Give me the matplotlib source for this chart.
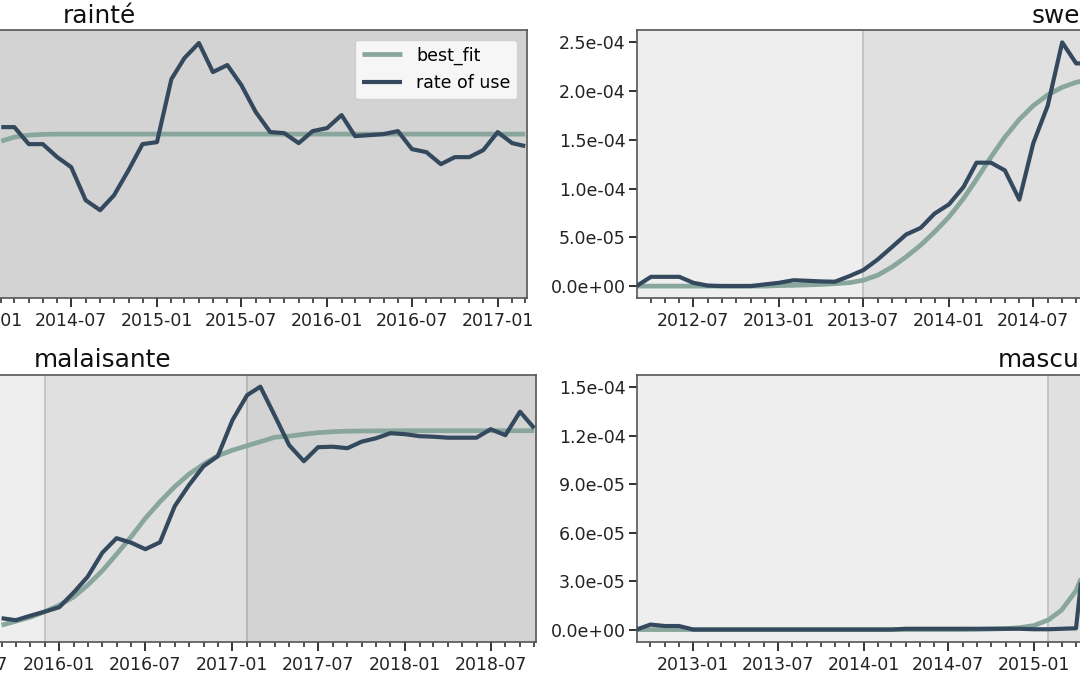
import matplotlib
matplotlib.use("Agg")
import matplotlib.pyplot as plt
import matplotlib.dates as mdates
from matplotlib.ticker import MultipleLocator, FormatStrFormatter
import numpy as np
import pandas as pd

# ---------------- data (values in units of 1e-5) ----------------
UNIT = 1e-5

# top-left panel ("...rainté")
tl_months = pd.date_range("2014-02-01", "2017-03-01", freq="MS")
tl_rate = [1.71, 1.71, 1.54, 1.54, 1.41, 1.31, 0.98, 0.88, 1.03, 1.28, 1.54,
           1.56, 2.19, 2.40, 2.55, 2.26, 2.33, 2.13, 1.86, 1.66, 1.65, 1.55, 1.67,
           1.70, 1.83, 1.62, 1.63, 1.64, 1.67, 1.49, 1.46, 1.34, 1.41, 1.41, 1.48,
           1.66, 1.55, 1.52]
tl_fit = [1.57, 1.61, 1.63, 1.637, 1.64, 1.64, 1.64, 1.64, 1.64, 1.64, 1.64,
          1.64, 1.64, 1.64, 1.64, 1.64, 1.64, 1.64, 1.64, 1.64, 1.64, 1.64, 1.64,
          1.64, 1.64, 1.64, 1.64, 1.64, 1.64, 1.64, 1.64, 1.64, 1.64, 1.64, 1.64,
          1.64, 1.64, 1.64]

# top-right panel ("swe...")
tr_months = pd.date_range("2012-03-01", "2014-11-01", freq="MS")
tr_rate = [0.0, 0.95, 0.95, 0.95, 0.34, 0.05, 0.0, 0.0, 0.0, 0.17,
           0.34, 0.6, 0.55, 0.48, 0.45, 1.02, 1.64, 2.73, 4.02, 5.29, 5.96, 7.43,
           8.38, 10.15, 12.65, 12.65, 11.86, 8.86, 14.65, 18.5, 24.98, 22.83, 22.8]
tr_fit = [0.0, 0.0, 0.0, 0.0, 0.0, 0.0, 0.0, 0.0, 0.0, 0.0,
          0.05, 0.08, 0.12, 0.17, 0.25, 0.35, 0.6, 1.12, 1.97, 3.0, 4.19, 5.55,
          7.09, 8.97, 10.94, 13.22, 15.27, 17.08, 18.5, 19.6, 20.38, 20.89, 21.2]

# bottom-left panel ("malaisante")
bl_months = pd.date_range("2015-09-01", "2018-10-01", freq="MS")
bl_rate = [0.47, 0.43, 0.52, 0.60,
           0.69, 0.99, 1.30, 1.78, 2.07, 1.98, 1.85, 1.99, 2.71, 3.13, 3.51, 3.71,
           4.43, 4.93, 5.10, 4.51, 3.93, 3.61, 3.89, 3.90, 3.87, 4.00, 4.07, 4.17,
           4.15, 4.11, 4.10, 4.08, 4.08, 4.08, 4.25, 4.13, 4.60, 4.27]
bl_fit = [0.33, 0.41, 0.49, 0.60,
          0.73, 0.90, 1.13, 1.42, 1.75, 2.10, 2.47, 2.80, 3.10, 3.35, 3.55, 3.72,
          3.83, 3.92, 4.00, 4.09, 4.11, 4.15, 4.18, 4.20, 4.21, 4.214, 4.216, 4.218,
          4.22, 4.22, 4.22, 4.22, 4.22, 4.22, 4.22, 4.22, 4.22, 4.22]

# bottom-right panel ("mascu...")
br_months = pd.date_range("2012-09-01", "2015-05-01", freq="MS")
br_rate = [0.0, 0.31, 0.22, 0.22,
           0.0, 0.0, 0.0, 0.0, 0.0, 0.0, 0.0, 0.0, 0.0, 0.0, 0.0, 0.0,
           0.0, 0.0, 0.0, 0.05, 0.05, 0.05, 0.05, 0.05, 0.05, 0.05, 0.05, 0.05,
           0.02, 0.02, 0.05, 0.08, 8.0]
br_fit = [0.0, 0.0, 0.0, 0.0,
          0.0, 0.0, 0.0, 0.0, 0.0, 0.0, 0.0, 0.0, 0.0, 0.0, 0.0, 0.0,
          0.0, 0.0, 0.0, 0.0, 0.0, 0.0, 0.0, 0.0, 0.01, 0.03, 0.06, 0.12,
          0.25, 0.6, 1.2, 2.4, 4.5]

# phase boundaries (start of medium phase, start of dark phase)
tl_phases = ["2013-01-01", "2013-06-01"]
tr_phases = ["2013-07-01", None]
bl_phases = ["2015-12-01", "2017-02-01"]
br_phases = ["2015-02-01", None]

titles = ["rainté", "swe", "malaisante", "mascu"]

# ---------------- styling ----------------
C_RATE = "#34495e"
C_FIT = "#89a69c"
BG_LIGHT = "#eeeeee"
BG_MED = "#e0e0e0"
BG_DARK = "#d3d3d3"
C_BOUND = "#c2c2c2"

W, H = 1080, 675
fig = plt.figure(figsize=(W / 100, H / 100), dpi=100)
fig.patch.set_facecolor("white")


def make_axes(pl, pr, pt, pb):
    return fig.add_axes([pl / W, 1 - pb / H, (pr - pl) / W, (pb - pt) / H])


def set_xlim_refs(ax, pl, pr, d1, p1, d2, p2):
    n1, n2 = mdates.datestr2num(d1), mdates.datestr2num(d2)
    s = (p2 - p1) / (n2 - n1)
    ax.set_xlim(n1 - (p1 - pl) / s, n1 + (pr - p1) / s)


def draw(ax, months, rate, fit, phases, legend=False):
    x0, x1 = ax.get_xlim()
    ax.set_facecolor(BG_LIGHT)
    med, dark = phases
    if med is not None:
        m = mdates.datestr2num(med)
        end = mdates.datestr2num(dark) if dark is not None else x1
        ax.axvspan(m, end, color=BG_MED, lw=0, zorder=0)
        ax.axvline(m, color=C_BOUND, lw=1.3, zorder=0.5)
    if dark is not None:
        d = mdates.datestr2num(dark)
        ax.axvspan(d, x1, color=BG_DARK, lw=0, zorder=0)
        ax.axvline(d, color="#b5b5b5", lw=1.3, zorder=0.5)
    ax.plot(months, np.array(fit) * UNIT, color=C_FIT, lw=3.4,
            label="best_fit", solid_capstyle="butt", zorder=2)
    ax.plot(months, np.array(rate) * UNIT, color=C_RATE, lw=3.0,
            label="rate of use", solid_capstyle="butt", zorder=3)
    ax.set_xlim(x0, x1)
    ax.xaxis.set_major_locator(mdates.MonthLocator(bymonth=[1, 7]))
    ax.xaxis.set_minor_locator(mdates.MonthLocator())
    ax.xaxis.set_major_formatter(mdates.DateFormatter("%Y-%m"))
    ax.tick_params(axis="x", which="major", length=6.5, width=1.3,
                   labelsize=12.5, pad=3.5, colors="#222222")
    ax.tick_params(axis="x", which="minor", length=3.5, width=1.1, colors="#222222")
    ax.tick_params(axis="y", which="major", length=5.5, width=1.3,
                   labelsize=12.5, pad=2.5, colors="#222222")
    for sp in ax.spines.values():
        sp.set_color("#555555")
        sp.set_linewidth(1.2)
    if legend:
        ax.legend(loc="upper right", fontsize=12.5, handlelength=2.3,
                  borderaxespad=0.55, framealpha=0.8, labelspacing=0.55)


# top-left
ax1 = make_axes(-110, 527, 30, 298.3)
set_xlim_refs(ax1, -110, 527, "2014-07-01", 71.2, "2017-01-01", 497.7)
ax1.set_facecolor(BG_DARK)
draw(ax1, tl_months, tl_rate, tl_fit, tl_phases, legend=True)
ax1.set_ylim(0, 2.68 * UNIT)

# top-right
ax2 = make_axes(636.7, 1200, 30, 298.3)
set_xlim_refs(ax2, 636.7, 1200, "2012-07-01", 693.3, "2014-07-01", 1033.3)
draw(ax2, tr_months, tr_rate, tr_fit, tr_phases)
ax2.set_ylim(-1.25 * UNIT, 26.25 * UNIT)
ax2.yaxis.set_major_locator(MultipleLocator(5e-5))
ax2.yaxis.set_major_formatter(FormatStrFormatter("%.1e"))

# bottom-left
ax3 = make_axes(-110, 535.7, 375, 641.7)
set_xlim_refs(ax3, -110, 535.7, "2016-01-01", 59.3, "2018-07-01", 490.7)
draw(ax3, bl_months, bl_rate, bl_fit, bl_phases)
ax3.set_ylim(0, 5.334 * UNIT)

# bottom-right
ax4 = make_axes(636.7, 1200, 375, 641.7)
set_xlim_refs(ax4, 636.7, 1200, "2013-01-01", 693.4, "2015-01-01", 1034)
draw(ax4, br_months, br_rate, br_fit, br_phases)
ax4.set_ylim(-0.75 * UNIT, 15.75 * UNIT)
ax4.yaxis.set_major_locator(MultipleLocator(3e-5))
ax4.yaxis.set_major_formatter(FormatStrFormatter("%.1e"))

# titles (only visible parts)
title_pos = [(63, 23), (1031.7, 23.3), (33.3, 366.7), (997.7, 367.3)]
for t, (px, py) in zip(titles, title_pos):
    fig.text(px / W, 1 - py / H, t, fontsize=17.8, ha="left", va="baseline",
             color="#111111")

fig.savefig("out.png", dpi=100)
